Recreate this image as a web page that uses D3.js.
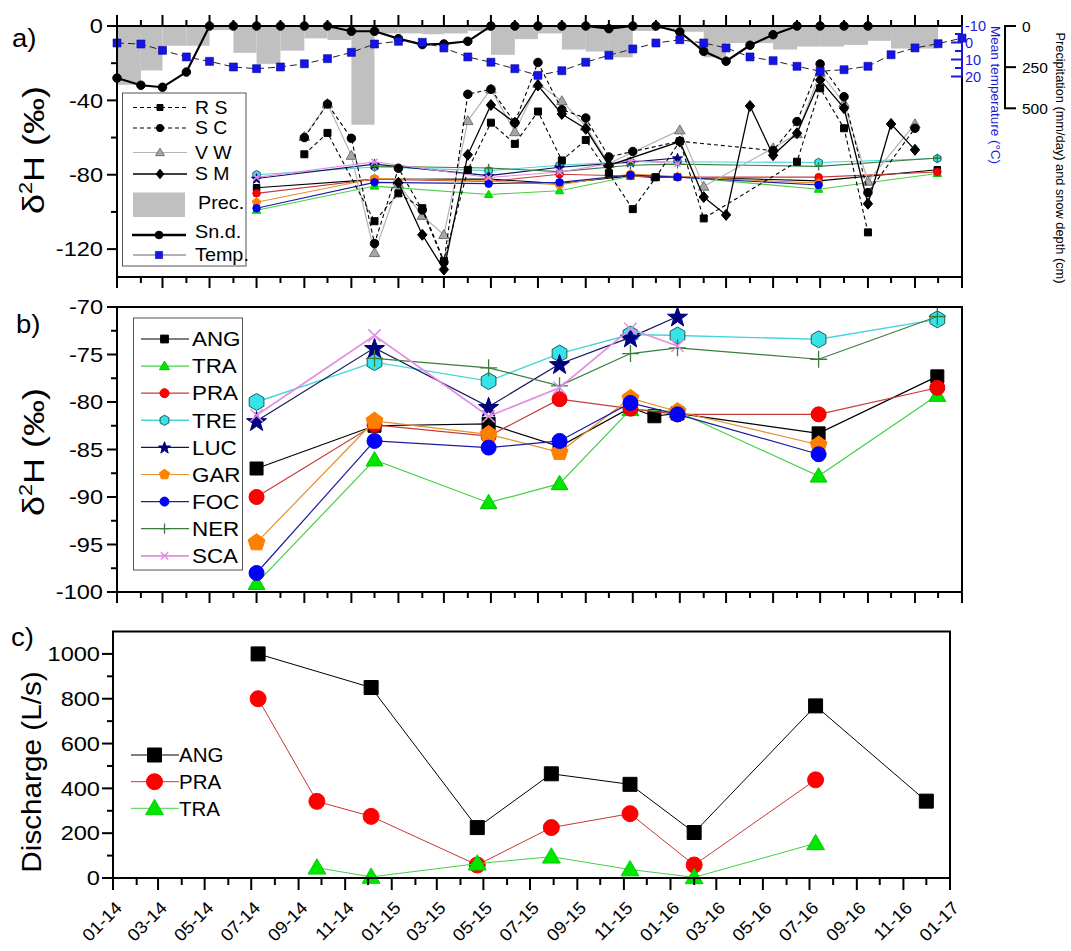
<!DOCTYPE html>
<html><head><meta charset="utf-8">
<script src="https://cdn.jsdelivr.net/npm/d3@7/dist/d3.min.js"></script>
<style>
html,body{margin:0;padding:0;background:#fff}
svg{display:block}
text{font-family:"Liberation Sans",Arial,Helvetica,sans-serif;fill:#000}
</style></head>
<body>
<svg id="chart" width="1071" height="951" viewBox="0 0 1071 951"></svg>
<script>
const _ = null;
// ---------- panel a : monthly series ----------
const months = ["2014-01","2014-02","2014-03","2014-04","2014-05","2014-06","2014-07","2014-08","2014-09","2014-10","2014-11","2014-12",
"2015-01","2015-02","2015-03","2015-04","2015-05","2015-06","2015-07","2015-08","2015-09","2015-10","2015-11","2015-12",
"2016-01","2016-02","2016-03","2016-04","2016-05","2016-06","2016-07","2016-08","2016-09","2016-10","2016-11","2016-12","2017-01"];
const temperature = [0.3,0.9,4.6,8.5,11.1,14.4,15.4,14.4,12.5,9.5,5.8,0.9,-0.7,-0.1,3.2,8.5,11.6,15.4,19.3,16.6,11.6,7.5,3.8,0.3,-1.6,0.3,3.2,8.5,10.7,14.0,16.9,16.0,14.0,7.2,3.2,0.7,-2.6];
const snowDepth = [316,360,372,280,0,0,0,0,0,0,32,32,77,113,109,93,0,0,0,0,0,16,0,0,36,154,214,117,53,0,0,0,0];
const precipitation = [357,270,120,120,25,163,230,150,75,85,600,45,45,50,45,30,175,80,45,143,155,190,30,18,35,190,104,104,143,125,125,115,90,137,137,0];
const rsValues = [_,_,_,_,_,_,_,_,-69,-57.5,_,-105,-90,-98,-126.3,-77.4,-52,-63.4,-46,-72.3,-61.3,-79.2,-98.5,-81.3,-62,-103.5,_,_,_,-73,-33.5,-55,-111,_,_,_,_];
const scValues = [_,_,_,_,_,_,_,_,-60,-42,-60.4,-117,-76.5,-99,-127,-36.7,-34,-52,-19.6,-45,-49.5,-70.4,-67.5,_,-62,_,_,_,-67,-51.4,-20.4,-38,-89.6,_,-55,_,_];
const vwValues = [_,_,_,_,_,_,_,_,-59.5,-41.8,-69.7,-122,-85,-102,-112.3,-51,-34,-57,-31,-40.3,-54,-74,_,_,-56,-86.3,_,_,-65.7,-58,-25,-41.5,-83.6,_,-52.7,_,_];
const smValues = [_,_,_,_,_,_,_,_,_,_,_,_,-84.3,-112.3,-131,-69.3,-42.5,-52,-32,-47.3,-55.3,-75,_,_,-62.2,-92,-101.6,-43,-69.5,-57.7,-29,-44.2,-95.6,-52.7,-66.6,_,_];

// ---------- panel b : spring isotopes ----------
const springDates = ["2014-07-01","2014-12-01","2015-04-28","2015-07-29","2015-10-29","2015-11-29","2015-12-29","2016-06-29","2016-11-30"];
const springNames = ["ANG","TRA","PRA","TRE","LUC","GAR","FOC","NER","SCA"];
const ANG = [-87,-82.5,-82.3,-84.7,-80.6,-81.5,-81.2,-83.3,-77.3];
const TRA = [-99.1,-86.1,-90.6,-88.6,-80.8,_,-81,-87.8,-79.3];
const PRA = [-90,-82.4,-83.6,-79.7,-80.7,_,-81.3,-81.3,-78.5];
const TRE = [-80,-75.8,-77.8,-74.9,-72.9,_,-73,-73.4,-71.3];
const LUC = [-82,-74.3,-80.5,-76,-73.2,_,-71,_,_];
const GAR = [-94.8,-82,-83.4,-85.3,-79.6,_,-81,-84.5,_];
const FOC = [-98,-84.1,-84.8,-84.1,-80.1,_,-81.3,-85.5,_];
const NER = [_,-75.4,-76.4,-78.3,-74.9,_,-74.3,-75.5,-71];
const SCA = [-81.4,-73,-81.5,-78.5,-72.3,_,-74.1,_,_];

// ---------- panel c : discharge ----------
const dischargeDates = ["2014-07-10","2014-09-25","2014-12-05","2015-04-23","2015-07-29","2015-11-09","2016-02-01","2016-07-09","2016-12-01"];
const dischargeANG = [1000,_,850,225,465,418,203,768,343];
const dischargePRA = [800,342,275,58,225,287,58,438,_];
const dischargeTRA = [_,46,5,64,95,38,3,155,_];

const aYTicks = [0,-40,-80,-120];
const bYTicks = [-70,-75,-80,-85,-90,-95,-100];
const cYTicks = [0,200,400,600,800,1000];
const tempTicks = [-10,0,10,20];
const precTicks = [0,250,500];

// ================= drawing =================
const svg = d3.select("#chart");
const parseMonth = d3.timeParse("%Y-%m");
const parseDay = d3.timeParse("%Y-%m-%d");
const T0 = parseMonth("2014-01"), T1 = parseMonth("2017-01");

const xA = d3.scaleTime().domain([T0,T1]).range([117,962]);
const xC = d3.scaleTime().domain([T0,T1]).range([113,950]);
const yA = d3.scaleLinear().domain([-135,0]).range([277,26]);
const yTemp = d3.scaleLinear().domain([-10,20]).range([25.5,76.5]);
const yPrec = d3.scaleLinear().domain([0,500]).range([26,108.3]);
const yB = d3.scaleLinear().domain([-100,-70]).range([592,307]);
const yC = d3.scaleLinear().domain([0,1100]).range([878,631.5]);

// text helper: stretched along text direction like the original's wide glyphs
function T(parent, x, y, str, o) {
  o = Object.assign({fs:18, sx:1, rot:0, anchor:"start", dy:null, fill:null}, o || {});
  let tr = `translate(${x},${y})`;
  if (o.rot) tr += ` rotate(${o.rot})`;
  if (o.sx !== 1) tr += ` scale(${o.sx},1)`;
  const t = parent.append("text").attr("transform", tr).attr("font-size", o.fs).attr("text-anchor", o.anchor);
  if (o.dy) t.attr("dy", o.dy);
  if (o.fill) t.style("fill", o.fill);
  if (str !== null) t.text(str);
  return t;
}

function polygon(n, r, rot) {
  const pts = d3.range(n).map(i => {const a = rot + 2*Math.PI*i/n; return [r*Math.sin(a), -r*Math.cos(a)];});
  return "M" + pts.map(p => p[0].toFixed(2)+","+p[1].toFixed(2)).join("L") + "Z";
}
function shapePath(shape, s) {
  const r = s/2;
  switch (shape) {
    case "square": return `M${-r},${-r}H${r}V${r}H${-r}Z`;
    case "circle": return `M${r},0A${r},${r},0,1,1,${-r},0A${r},${r},0,1,1,${r},0Z`;
    case "triangle": return `M0,${-r*1.05}L${r*1.05},${r*0.75}L${-r*1.05},${r*0.75}Z`;
    case "diamond": return `M0,${-r}L${r*0.85},0L0,${r}L${-r*0.85},0Z`;
    case "pentagon": return polygon(5, r*1.05, 0);
    case "hexagon": return polygon(6, r, 0);
    case "star": {
      const pts = d3.range(10).map(i => {const a = Math.PI*i/5; const rr = i%2 ? r*0.42 : r*1.05; return [rr*Math.sin(a), -rr*Math.cos(a)+r*0.1];});
      return "M" + pts.map(p => p[0].toFixed(2)+","+p[1].toFixed(2)).join("L") + "Z";
    }
    case "plus": return `M${-r},0H${r}M0,${-r}V${r}`;
    case "times": return `M${-r*0.72},${-r*0.72}L${r*0.72},${r*0.72}M${r*0.72},${-r*0.72}L${-r*0.72},${r*0.72}`;
  }
}
function drawSeries(g, dates, values, x, y, st, k) {
  const pts = dates.map((d,i) => ({d, v: values[i]})).filter(p => p.v !== null && p.v !== undefined);
  const line = d3.line().x(p => x(p.d)).y(p => y(p.v));
  g.append("path").attr("d", line(pts)).attr("fill","none").attr("stroke", st.line)
    .attr("stroke-width", st.lw || 1.2).attr("stroke-dasharray", st.dash || null);
  g.append("g").selectAll("path").data(pts).join("path")
    .attr("transform", p => `translate(${x(p.d)},${y(p.v)})`)
    .attr("d", shapePath(st.shape, st.size*k))
    .attr("fill", st.fill).attr("stroke", st.stroke).attr("stroke-width", st.sw || 1);
}
function marker(g, cx, cy, st, k) {
  g.append("path").attr("transform", `translate(${cx},${cy})`).attr("d", shapePath(st.shape, st.size*k))
    .attr("fill", st.fill).attr("stroke", st.stroke).attr("stroke-width", st.sw || 1);
}

const springStyle = {
  ANG:{line:"#000", fill:"#000", stroke:"#000", shape:"square", size:13},
  TRA:{line:"#47cf47", fill:"#00e600", stroke:"#00c800", shape:"triangle", size:16},
  PRA:{line:"#c83838", fill:"#ff0000", stroke:"#e00000", shape:"circle", size:15},
  TRE:{line:"#45d6dc", fill:"#36e3e6", stroke:"#1b5c5c", shape:"hexagon", size:17, lw:1.4},
  LUC:{line:"#14145a", fill:"#000080", stroke:"#000080", shape:"star", size:20},
  GAR:{line:"#e4902c", fill:"#ff8000", stroke:"#ff8000", shape:"pentagon", size:17},
  FOC:{line:"#1c1ca0", fill:"#0000ff", stroke:"#0000e6", shape:"circle", size:15},
  NER:{line:"#3b7c3b", fill:"none", stroke:"#3b7c3b", shape:"plus", size:17, sw:1.3},
  SCA:{line:"#e38ee3", fill:"none", stroke:"#e38ee3", shape:"times", size:17, lw:1.7, sw:1.5}
};
const springValues = {ANG, TRA, PRA, TRE, LUC, GAR, FOC, NER, SCA};
const springD = springDates.map(parseDay);
const monthD = months.map(parseMonth);

const isoStyle = {
  RS:{line:"#000", fill:"#000", stroke:"#000", shape:"square", size:7, dash:"4,3", lw:1.1},
  SC:{line:"#000", fill:"#000", stroke:"#000", shape:"circle", size:8.5, dash:"4,3", lw:1.1},
  VW:{line:"#b4b4b4", fill:"#a6a6a6", stroke:"#5a5a5a", shape:"triangle", size:10, lw:1.2, sw:0.8},
  SM:{line:"#000", fill:"#000", stroke:"#000", shape:"diamond", size:11, lw:1.3}
};
const snowStyle = {line:"#000", fill:"#000", stroke:"#000", shape:"circle", size:8.5, lw:2.2};
const tempStyle = {line:"#222", fill:"#1414e6", stroke:"#0a0a9a", shape:"square", size:8, dash:"7,4", lw:1, sw:0.6};

function monthTicks(x, y0, dir, minorLen, majorLen) {
  const all = d3.timeMonth.range(T0, d3.timeMonth.offset(T1, 1));
  svg.append("g").selectAll("line").data(all).join("line")
    .attr("x1", d => x(d)).attr("x2", d => x(d)).attr("y1", y0)
    .attr("y2", d => y0 + dir * (d.getMonth() % 2 === 0 ? majorLen : minorLen))
    .attr("stroke", "#000").attr("stroke-width", 2);
}
function leftLabels(y, x0, values, fs, sx) {
  const g = svg.append("g");
  values.forEach(v => T(g, x0, y(v), String(v), {fs, sx, anchor:"end", dy:"0.36em"}));
}
function deltaLabel(cx, cy) {
  const t = T(svg, cx, cy, null, {fs:30, sx:1.2, rot:-90, anchor:"middle"});
  t.append("tspan").text("δ");
  t.append("tspan").attr("dy", -12).attr("font-size", 18).text("2");
  t.append("tspan").attr("dy", 12).text("H (‰)");
}

// ===== Panel a =====
const gA = svg.append("g");
gA.append("g").selectAll("rect").data(precipitation).join("rect")
  .attr("x", (v,i) => xA(monthD[i])).attr("width", (v,i) => xA(monthD[i+1]) - xA(monthD[i]))
  .attr("y", yPrec(0)).attr("height", v => yPrec(v) - yPrec(0)).attr("fill", "#c0c0c0");
springNames.forEach(n => drawSeries(gA, springD, springValues[n], xA, yA, Object.assign({}, springStyle[n], {lw:1.1}), 0.5));
drawSeries(gA, monthD, vwValues, xA, yA, isoStyle.VW, 1);
drawSeries(gA, monthD, rsValues, xA, yA, isoStyle.RS, 1);
drawSeries(gA, monthD, scValues, xA, yA, isoStyle.SC, 1);
drawSeries(gA, monthD, smValues, xA, yA, isoStyle.SM, 1);
drawSeries(gA, monthD.slice(0, snowDepth.length), snowDepth, xA, yPrec, snowStyle, 1);
drawSeries(gA, monthD, temperature, xA, yTemp, tempStyle, 1);

svg.append("rect").attr("x",117).attr("y",26).attr("width",845).attr("height",251)
  .attr("fill","none").attr("stroke","#000").attr("stroke-width",2);
monthTicks(xA, 277, 1, 6, 11);
monthTicks(xA, 26, -1, 6, 11);
svg.append("g").selectAll("line").data(d3.range(0,-121,-20)).join("line")
  .attr("x1",117).attr("x2", d => 117 - (d % 40 === 0 ? 10 : 6)).attr("y1", d => yA(d)).attr("y2", d => yA(d))
  .attr("stroke","#000").attr("stroke-width",2);
leftLabels(yA, 103, aYTicks, 20, 1.18);
deltaLabel(44, 150);
T(svg, 12, 47, "a)", {fs:25, sx:1.1});

// temperature axis (blue)
svg.append("line").attr("x1",962).attr("x2",962).attr("y1",yTemp(-10)).attr("y2",yTemp(20)).attr("stroke","#1a1ad6").attr("stroke-width",2);
svg.append("g").selectAll("line").data(d3.range(-5,21,5)).join("line")
  .attr("x1",962).attr("x2", d => 962 - (d % 10 === 0 ? 11 : 7)).attr("y1", d => yTemp(d)).attr("y2", d => yTemp(d))
  .attr("stroke","#1a1ad6").attr("stroke-width",2);
tempTicks.forEach(v => T(svg, 965, yTemp(v), String(v), {fs:14.5, dy:"0.36em", fill:"#1a1ad6"}));
T(svg, 990.5, 95, "Mean temperature (°C)", {fs:13.5, rot:90, anchor:"middle", fill:"#1a1ad6"});
// precipitation axis
svg.append("line").attr("x1",1005).attr("x2",1005).attr("y1",yPrec(0)).attr("y2",yPrec(500)).attr("stroke","#000").attr("stroke-width",2);
svg.append("g").selectAll("line").data(precTicks).join("line")
  .attr("x1",1004).attr("x2",1016).attr("y1", d => yPrec(d)).attr("y2", d => yPrec(d)).attr("stroke","#000").attr("stroke-width",2);
precTicks.forEach(v => T(svg, 1022, yPrec(v), String(v), {fs:15.5, dy:"0.36em"}));
T(svg, 1056, 158, "Precipitation (mm/day) and snow depth (cm)", {fs:12.8, rot:90, anchor:"middle"});

// legend a
const lgA = svg.append("g");
lgA.append("rect").attr("x",122.5).attr("y",93).attr("width",123.5).attr("height",173)
  .attr("fill","#fff").attr("stroke","#555").attr("stroke-width",1);
const legA = [["R S", isoStyle.RS, 107.5], ["S C", isoStyle.SC, 128], ["V W", isoStyle.VW, 152.5], ["S M", isoStyle.SM, 174]];
legA.forEach(([lab, st, y]) => {
  lgA.append("line").attr("x1",133).attr("x2",187).attr("y1",y).attr("y2",y).attr("stroke", st.line)
    .attr("stroke-width", st.lw).attr("stroke-dasharray", st.dash || null);
  marker(lgA, 160, y, st, 0.85);
  T(lgA, 195, y, lab, {fs:18, sx:1.08, dy:"0.36em"});
});
lgA.append("rect").attr("x",133).attr("y",192.5).attr("width",52).attr("height",24.5).attr("fill","#c0c0c0");
T(lgA, 198, 209, "Prec.", {fs:18, sx:1.1});
lgA.append("line").attr("x1",132).attr("x2",186).attr("y1",235).attr("y2",235).attr("stroke","#000").attr("stroke-width",2.6);
marker(lgA, 159, 235, snowStyle, 0.9);
T(lgA, 195, 232, "Sn.d.", {fs:18, sx:1.1, dy:"0.36em"});
lgA.append("line").attr("x1",133).attr("x2",186).attr("y1",255).attr("y2",255).attr("stroke","#666").attr("stroke-width",1);
marker(lgA, 159, 255, tempStyle, 0.9);
T(lgA, 195, 255, "Temp.", {fs:18, sx:1.1, dy:"0.36em"});

// ===== Panel b =====
const gB = svg.append("g");
springNames.forEach(n => drawSeries(gB, springD, springValues[n], xA, yB, springStyle[n], 1));
svg.append("rect").attr("x",117).attr("y",307).attr("width",845).attr("height",285)
  .attr("fill","none").attr("stroke","#000").attr("stroke-width",2);
monthTicks(xA, 592, 1, 6, 11);
svg.append("g").selectAll("line").data(d3.range(-70,-100.1,-2.5)).join("line")
  .attr("x1",117).attr("x2", d => 117 - (d % 5 === 0 ? 10 : 6)).attr("y1", d => yB(d)).attr("y2", d => yB(d))
  .attr("stroke","#000").attr("stroke-width",2);
leftLabels(yB, 103, bYTicks, 20, 1.18);
deltaLabel(44, 452);
T(svg, 16, 333, "b)", {fs:25, sx:1.1});
// legend b
const lgB = svg.append("g");
lgB.append("rect").attr("x",133.5).attr("y",318).attr("width",109).attr("height",252)
  .attr("fill","#fff").attr("stroke","#555").attr("stroke-width",1);
springNames.forEach((n, i) => {
  const y = 339 + i*27.1, st = springStyle[n];
  lgB.append("line").attr("x1",141).attr("x2",189).attr("y1",y).attr("y2",y).attr("stroke", st.line).attr("stroke-width", st.lw || 1.2);
  marker(lgB, 164.5, y, st, 0.6);
  T(lgB, 192, y, n, {fs:20, sx:1.12, dy:"0.36em"});
});

// ===== Panel c =====
const gC = svg.append("g");
const dischargeD = dischargeDates.map(parseDay);
const dischargeStyle = {
  ANG:{line:"#000", fill:"#000", stroke:"#000", shape:"square", size:14, lw:1},
  PRA:{line:"#c83838", fill:"#ff0000", stroke:"#ff0000", shape:"circle", size:16, lw:1},
  TRA:{line:"#47cf47", fill:"#00e600", stroke:"#00d000", shape:"triangle", size:17, lw:1}
};
drawSeries(gC, dischargeD, dischargeANG, xC, yC, dischargeStyle.ANG, 1);
drawSeries(gC, dischargeD, dischargePRA, xC, yC, dischargeStyle.PRA, 1);
drawSeries(gC, dischargeD, dischargeTRA, xC, yC, dischargeStyle.TRA, 1);
svg.append("rect").attr("x",113).attr("y",631.5).attr("width",837).attr("height",246.5)
  .attr("fill","none").attr("stroke","#000").attr("stroke-width",2);
monthTicks(xC, 878, 1, 7, 12);
svg.append("g").selectAll("line").data(d3.range(0,1001,100)).join("line")
  .attr("x1",113).attr("x2", d => 113 - (d % 200 === 0 ? 11 : 6)).attr("y1", d => yC(d)).attr("y2", d => yC(d))
  .attr("stroke","#000").attr("stroke-width",2);
leftLabels(yC, 100, cYTicks, 20, 1.18);
T(svg, 41, 772, "Discharge (L/s)", {fs:27, sx:1.1, rot:-90, anchor:"middle"});
T(svg, 11, 646, "c)", {fs:25, sx:1.1});
const fmt = d3.timeFormat("%m-%y");
d3.timeMonth.every(2).range(T0, d3.timeMonth.offset(T1,1)).forEach(d =>
  T(svg, xC(d) + 10, 909, fmt(d), {fs:17.5, sx:1.06, rot:-45, anchor:"end"}));
// legend c
const lgC = svg.append("g");
[["ANG",755],["PRA",781.7],["TRA",808.3]].forEach(([n, y]) => {
  const st = dischargeStyle[n];
  lgC.append("line").attr("x1",131).attr("x2",179).attr("y1",y).attr("y2",y).attr("stroke", st.line).attr("stroke-width",1);
  marker(lgC, 154.5, y, st, 1);
  T(lgC, 179, y, n, {fs:20.5, dy:"0.36em"});
});
</script>
</body></html>
